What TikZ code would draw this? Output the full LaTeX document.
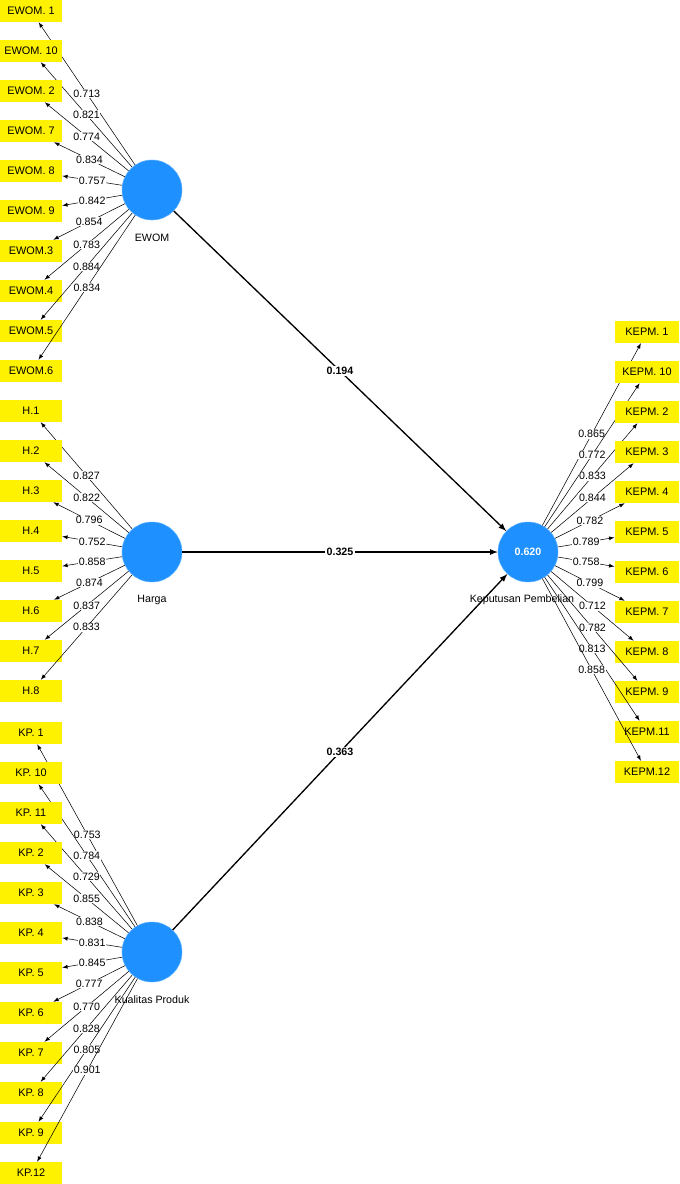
\documentclass[tikz,border=0pt]{standalone}
\usepackage{fontspec}
\setmainfont{Liberation Sans}
\usetikzlibrary{arrows}
\definecolor{lvblue}{RGB}{30,144,255}
\tikzstyle{item}=[rectangle,fill=yellow,minimum width=46.5pt,minimum height=16.5pt,inner sep=1pt,font=\fontsize{8.2}{9}\selectfont]
\tikzstyle{latent}=[circle,fill=lvblue,draw=lvblue!70,minimum size=45pt,inner sep=0pt]
\tikzstyle{load}=[draw,-latex,thin]
\tikzstyle{loadlabel}=[fill=white,inner sep=0.5pt,font=\fontsize{8}{9}\selectfont]
\tikzstyle{path}=[draw,-latex,line width=1pt]

\begin{document}
\begin{tikzpicture}[x=0.75pt,y=-0.75pt]
  \useasboundingbox (0,0) rectangle (680,1184);

  % latent variables
  \node[latent] (EWOM) at (152,190) {};
  \node[latent] (H) at (152,552) {};
  \node[latent] (KP) at (152,952) {};
  \node[latent,font=\bfseries\fontsize{8}{9}\selectfont,text=white] (KEPM) at (528,552) {0.620};
  \node[font=\fontsize{8}{9}\selectfont] (EWOMlabel) at (152,238) {EWOM};
  \node[font=\fontsize{8}{9}\selectfont] (Hlabel) at (152,600) {Harga};
  \node[font=\fontsize{8}{9}\selectfont] (KPlabel) at (152,1000) {Kualitas Produk};
  \node[font=\fontsize{8}{9}\selectfont] (KEPMlabel) at (522,600) {Keputusan Pembelian};

  % structural paths
  \path[path] (EWOM) -- node[fill=white,inner sep=1pt,font=\bfseries\fontsize{8}{9}\selectfont] {0.194} (KEPM);
  \path[path] (H) -- node[fill=white,inner sep=1pt,font=\bfseries\fontsize{8}{9}\selectfont] {0.325} (KEPM);
  \path[path] (KP) -- node[fill=white,inner sep=1pt,font=\bfseries\fontsize{8}{9}\selectfont] {0.363} (KEPM);

  % EWOM indicators
  \foreach \name/\val [count=\i] in {EWOM. 1/0.713, EWOM. 10/0.821, EWOM. 2/0.774, EWOM. 7/0.834,
      EWOM. 8/0.757, EWOM. 9/0.842, EWOM.3/0.854, EWOM.4/0.783, EWOM.5/0.884, EWOM.6/0.834} {
    \node[item] (ew\i) at (31,{11+40*(\i-1)}) {\name};
    \path[load] (EWOM) -- node[loadlabel] {\val} (ew\i);
  }

  % Harga indicators
  \foreach \val [count=\i] in {0.827,0.822,0.796,0.752,0.858,0.874,0.837,0.833} {
    \node[item] (h\i) at (31,{411+40*(\i-1)}) {H.\i};
    \path[load] (H) -- node[loadlabel] {\val} (h\i);
  }

  % Kualitas Produk indicators
  \foreach \name/\val [count=\i] in {KP. 1/0.753, KP. 10/0.784, KP. 11/0.729, KP. 2/0.855,
      KP. 3/0.838, KP. 4/0.831, KP. 5/0.845, KP. 6/0.777, KP. 7/0.770, KP. 8/0.828,
      KP. 9/0.805, KP.12/0.901} {
    \node[item] (kp\i) at (31,{733+40*(\i-1)}) {\name};
    \path[load] (KP) -- node[loadlabel] {\val} (kp\i);
  }

  % Keputusan Pembelian indicators
  \foreach \name/\val [count=\i] in {KEPM. 1/0.865, KEPM. 10/0.772, KEPM. 2/0.833, KEPM. 3/0.844,
      KEPM. 4/0.782, KEPM. 5/0.789, KEPM. 6/0.758, KEPM. 7/0.799, KEPM. 8/0.712,
      KEPM. 9/0.782, KEPM.11/0.813, KEPM.12/0.858} {
    \node[item,minimum width=48.5pt] (kep\i) at (647,{332+40*(\i-1)}) {\name};
    \path[load] (KEPM) -- node[loadlabel] {\val} (kep\i);
  }
\end{tikzpicture}
\end{document}
